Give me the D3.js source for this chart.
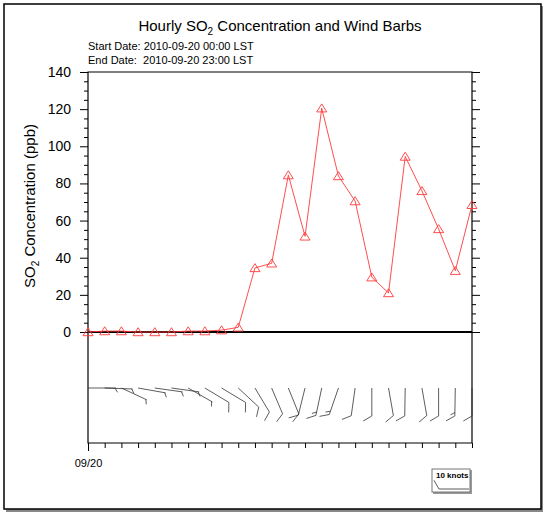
<!DOCTYPE html>
<html><head><meta charset="utf-8">
<script src="https://cdn.jsdelivr.net/npm/d3@7"></script>
<style>
body{margin:0;background:#fff;}
text{font-family:"Liberation Sans",Arial,Helvetica,sans-serif;fill:#000;}
</style>
</head><body>
<svg id="c" width="545" height="514"></svg>
<script>
// ---- data ----
const hours = [0,1,2,3,4,5,6,7,8,9,10,11,12,13,14,15,16,17,18,19,20,21,22,23];
const so2 = [0,0.5,0.5,0,0,0,0.5,0.5,1,2.5,34.5,37,84.5,51.5,120.5,84,70.5,29.5,21,94.5,76,55.5,33,68.5];
const windDir = [90,92,115,100,98,98,120,121,121,133,149,157,158,194,192,199,188,180,170,181,170,180,181,180];
const windSpd = [5,5,5,5,5,5,5,10,10,10,10,10,10,10,15,15,10,10,10,10,10,10,15,10];
const yTicks = [0,20,40,60,80,100,120,140];
const yMinor = [5,10,15,25,30,35,45,50,55,65,70,75,85,90,95,105,110,115,125,130,135];
const xTickLabels = ["09/20"];
const titleParts = ["Hourly SO", "2", " Concentration and Wind Barbs"];
const subLines = ["Start Date: 2010-09-20 00:00 LST", "End Date:  2010-09-20 23:00 LST"];
const refSpeed = 10;

// ---- layout ----
const L = 88, R = 472, T = 72, B = 332, WB = 443, barbY = 388;
const svg = d3.select("#c");

// outer frame with shadow
svg.append("rect").attr("x",6).attr("y",6).attr("width",537).attr("height",506).attr("fill","#888");
svg.append("rect").attr("x",4).attr("y",4).attr("width",537).attr("height",505).attr("fill","#fff").attr("stroke","#000").attr("stroke-width",1.5);

const x = d3.scaleLinear().domain([0,23]).range([L,R]);
const y = d3.scaleLinear().domain([0,140]).range([B,T]);

// title
const tt = svg.append("text").attr("x",(L+R)/2).attr("y",31).attr("text-anchor","middle").style("font-size","15px");
tt.append("tspan").text(titleParts[0]);
tt.append("tspan").attr("dy",4).style("font-size","10px").text(titleParts[1]);
tt.append("tspan").attr("dy",-4).text(titleParts[2]);
subLines.forEach((s,i)=>{
  svg.append("text").attr("x",L).attr("y",50+i*13.5).style("font-size","11px").style("white-space","pre").attr("xml:space","preserve").text(s);
});

// y axes
const gL = svg.append("g").attr("transform",`translate(${L},0)`)
  .call(d3.axisLeft(y).tickValues(yTicks).tickSize(8).tickPadding(9).tickFormat(d3.format("d")));
gL.selectAll("text").style("font-size","14px").style("font-family","'Liberation Sans',Arial,sans-serif");
const gLm = svg.append("g").attr("transform",`translate(${L},0)`)
  .call(d3.axisLeft(y).tickValues(yMinor).tickSize(4).tickFormat(""));
const gR = svg.append("g").attr("transform",`translate(${R},0)`)
  .call(d3.axisRight(y).tickValues(yTicks).tickSize(8).tickFormat(""));
const gRm = svg.append("g").attr("transform",`translate(${R},0)`)
  .call(d3.axisRight(y).tickValues(yMinor).tickSize(4).tickFormat(""));
[gL,gLm,gR,gRm].forEach(g=>{g.select(".domain").remove(); g.selectAll("line").attr("stroke","#000").attr("stroke-width",1);});

// y title
const yt = svg.append("text").attr("transform",`translate(35,${(T+B)/2+4}) rotate(-90)`).attr("text-anchor","middle").style("font-size","15px");
yt.append("tspan").text("SO");
yt.append("tspan").attr("dy",4).style("font-size","10px").text("2");
yt.append("tspan").attr("dy",-4).text(" Concentration (ppb)");

// bottom x axis of wind panel
const gX = svg.append("g").attr("transform",`translate(0,${WB})`)
  .call(d3.axisBottom(x).tickValues(hours.slice(1)).tickSize(5).tickFormat(""));
gX.select(".domain").remove();
gX.selectAll("line").attr("stroke","#000");
const gX0 = svg.append("g").attr("transform",`translate(0,${WB})`)
  .call(d3.axisBottom(x).tickValues([hours[0]]).tickSize(8).tickPadding(8).tickFormat(()=>xTickLabels[0]));
gX0.select(".domain").remove();
gX0.selectAll("line").attr("stroke","#000");
gX0.selectAll("text").style("font-size","11px").style("font-family","'Liberation Sans',Arial,sans-serif");

// frames
svg.append("path").attr("d",`M${L},${T}H${R}V${WB}H${L}Z`).attr("fill","none").attr("stroke","#000").attr("stroke-width",1.2);
svg.append("line").attr("x1",L).attr("x2",R).attr("y1",y(0)).attr("y2",y(0)).attr("stroke","#000").attr("stroke-width",2);

// SO2 line
const color = "#ff3a3a";
svg.append("path").datum(so2).attr("fill","none").attr("stroke",color).attr("stroke-width",0.9)
  .attr("d", d3.line().x((d,i)=>x(hours[i])).y(d=>y(d)));
svg.selectAll(".mk").data(so2).enter().append("path").attr("class","mk")
  .attr("transform",(d,i)=>`translate(${x(hours[i])},${y(d)})`)
  .attr("d","M0,-4.3L5,3.7L-5,3.7Z").attr("fill","none").attr("stroke",color).attr("stroke-width",0.9);

// wind barbs
function barb(g, sx, sy, dir, spd, len){
  const a = dir*Math.PI/180;
  const ux = Math.sin(a), uy = -Math.cos(a);
  const th = 60*Math.PI/180;
  const fx = ux*Math.cos(th) - uy*Math.sin(th), fy = ux*Math.sin(th) + uy*Math.cos(th);
  const ex = sx+ux*len, ey = sy+uy*len;
  let p = `M${sx},${sy}L${ex},${ey}`;
  let full = Math.floor(spd/10), half = Math.round((spd - full*10)/5);
  let pos = 0;
  for(let k=0;k<full;k++){
    const bx = ex-ux*pos, by = ey-uy*pos;
    p += `M${bx},${by}l${fx*10},${fy*10}`; pos += 3.5;
  }
  for(let k=0;k<half;k++){
    if(full===0) pos = 1;
    const bx = ex-ux*pos, by = ey-uy*pos;
    p += `M${bx},${by}l${fx*5},${fy*5}`; pos += 3.5;
  }
  g.append("path").attr("d",p).attr("fill","none").attr("stroke","#333").attr("stroke-width",0.8);
}
const gB = svg.append("g");
hours.forEach((h,i)=>barb(gB, x(h), barbY, windDir[i], windSpd[i], 28));

// reference legend
const lg = svg.append("g");
lg.append("rect").attr("x",433).attr("y",470).attr("width",39).attr("height",24).attr("fill","#999");
lg.append("rect").attr("x",432).attr("y",469).attr("width",38).attr("height",23).attr("fill","#fff").attr("stroke","#777").attr("stroke-width",1);
lg.append("text").attr("x",436).attr("y",478).style("font-size","8px").style("font-weight","bold").text(refSpeed+" knots");
barb(lg, 469, 489, 270, refSpeed, 30);
</script>
</body></html>
